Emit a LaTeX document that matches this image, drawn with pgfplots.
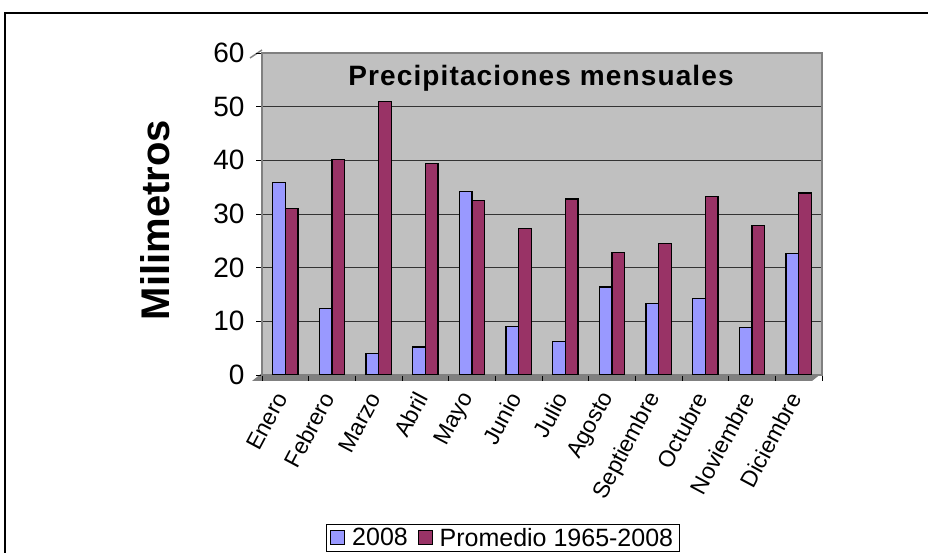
\documentclass[border=0pt]{standalone}
\usepackage{fontspec}
\setmainfont{Liberation Sans}
\usepackage{pgfplots}
\pgfplotsset{compat=1.18}
\definecolor{b2008}{HTML}{9999FF}
\definecolor{prom}{HTML}{993366}
\definecolor{wall}{HTML}{C0C0C0}
\definecolor{floorc}{HTML}{808080}
\begin{document}
\begin{tikzpicture}[x=1pt,y=1pt]
\useasboundingbox (0,0) rectangle (928,553);
\draw[line width=2pt] (5,-20) rectangle (950,540);
\fill[floorc] (252,172) -- (812,172) -- (822,180) -- (262,180) -- cycle;
\draw[floorc, line width=1.5pt] (250,495) -- (262,503);
\begin{axis}[at={(262pt,178pt)}, anchor=south west, scale only axis,
  width=560pt, height=322pt,
  ymin=0, ymax=60, xmin=-0.5, xmax=11.5,
  ytick={0,10,...,60},
  xtick={-0.5,0.5,...,11.5}, xticklabels={},
  extra x ticks={0,...,11},
  extra x tick labels={Enero,Febrero,Marzo,Abril,Mayo,Junio,Julio,Agosto,Septiembre,Octubre,Noviembre,Diciembre},
  extra x tick style={major tick length=0pt},
  ybar=0pt, bar width=0.27,
  axis background/.style={fill=wall},
  ymajorgrids, major grid style={black!80, line width=0.9pt},
  axis line style={floorc, line width=1.5pt},
  tick align=outside, tick pos=left, major tick length=6pt,
  tick style={black, line width=0.9pt},
  /pgf/number format/assume math mode=true,
  yticklabel style={font=\fontsize{28}{30}\selectfont, xshift=-8pt},
  xticklabel style={font=\fontsize{23}{26}\selectfont, yshift=-16pt, xshift=-2pt, rotate=62, anchor=east},
  area legend,
  legend style={at={(0.430,-0.506)}, anchor=center, draw=black, line width=1pt,
    font=\fontsize{25}{29}\selectfont, legend columns=2,
    /tikz/every odd column/.append style={column sep=5pt},
    /tikz/every even column/.append style={column sep=8pt},
    inner xsep=4pt, inner ysep=2pt},
  legend image code/.code={\draw[#1, draw=black, line width=0.8pt] (0pt,-6pt) rectangle (14pt,8pt);},
]
\addplot[fill=b2008, draw=black, line width=1.2pt] coordinates {
 (0,35.8) (1,12.4) (2,4.0) (3,5.2) (4,34.2) (5,9.0) (6,6.2) (7,16.4) (8,13.3) (9,14.2) (10,8.9) (11,22.7)};
\addplot[fill=prom, draw=black, line width=1.2pt] coordinates {
 (0,31.0) (1,40.2) (2,51.0) (3,39.4) (4,32.5) (5,27.3) (6,32.8) (7,22.8) (8,24.5) (9,33.3) (10,27.8) (11,33.9)};
\legend{2008, Promedio 1965-2008}
\end{axis}
\node at (541,475) {\fontsize{28}{32}\selectfont\bfseries\addfontfeatures{LetterSpace=4}Precipitaciones mensuales};
\node[rotate=90] at (155,333) {\fontsize{40}{44}\selectfont\bfseries Milimetros};
\end{tikzpicture}
\end{document}
